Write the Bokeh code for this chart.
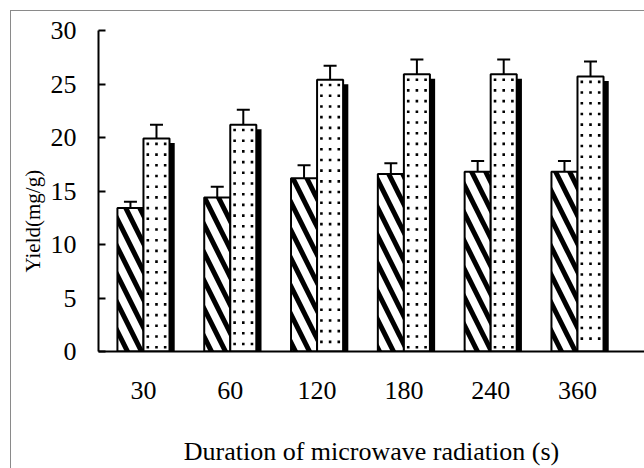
import math
import numpy as np
from bokeh.plotting import figure
from bokeh.models import ColumnDataSource, Range1d, FixedTicker, Whisker, TeeHead, Title
from bokeh.transform import dodge
from bokeh.embed import file_html
from bokeh.resources import INLINE

# ---- data ----
durations = ["30", "60", "120", "180", "240", "360"]          # microwave radiation time (s)
yield_hatched = [13.4, 14.4, 16.2, 16.6, 16.8, 16.8]          # first series (diagonal hatch)
err_hatched = [0.6, 1.0, 1.2, 1.0, 1.0, 1.0]
yield_dotted = [19.9, 21.2, 25.4, 25.9, 25.9, 25.7]           # second series (dotted)
err_dotted = [1.3, 1.4, 1.3, 1.4, 1.4, 1.4]
y_ticks = [0, 5, 10, 15, 20, 25, 30]

FONT = "Liberation Serif"
BW = 0.3
idx = list(range(len(durations)))
src = ColumnDataSource(dict(
    idx=idx,
    a=yield_hatched,
    b=yield_dotted,
    a_lo=[v - e for v, e in zip(yield_hatched, err_hatched)],
    a_hi=[v + e for v, e in zip(yield_hatched, err_hatched)],
    b_lo=[v - e for v, e in zip(yield_dotted, err_dotted)],
    b_hi=[v + e for v, e in zip(yield_dotted, err_dotted)],
))

# dot texture of the second series' bars (fill pattern, laid out inside each bar)
tex_x, tex_y = [], []
for i, top in zip(idx, yield_dotted):
    rows = np.arange(top - 0.5, 0.3, -1.0)
    for col in (-0.1, 0.0, 0.1):
        tex_x.extend([i + BW / 2 + col] * len(rows))
        tex_y.extend(rows.tolist())
tex = ColumnDataSource(dict(x=tex_x, y=tex_y))

p = figure(width=644, height=468, output_backend="svg", toolbar_location=None,
           x_range=Range1d(-0.518, 5.772), y_range=Range1d(0, 30),
           min_border_left=98, min_border_right=0, min_border_top=30, min_border_bottom=116)
p.border_fill_color = None
p.background_fill_color = None
p.outline_line_color = None
p.grid.visible = False
p.styles = {
    "background-image": "linear-gradient(#8a8a8a, #8a8a8a), linear-gradient(#8a8a8a, #8a8a8a)",
    "background-size": "1px 100%, 100% 1px",
    "background-position": "10px 10px, 10px 10px",
    "background-repeat": "no-repeat",
}

# shadow of dotted bars
p.vbar(x=dodge("idx", BW / 2 + 0.06), top=dodge("b", -0.42), bottom=0, width=BW, source=src,
       fill_color="black", line_color=None)
# hatched bars
p.vbar(x=dodge("idx", -BW / 2), top="a", bottom=0, width=BW, source=src,
       fill_color="white", line_color="black", line_width=2,
       hatch_pattern="\\", hatch_color="black", hatch_scale=28, hatch_weight=5)
# dotted bars
p.vbar(x=dodge("idx", BW / 2), top="b", bottom=0, width=BW, source=src,
       fill_color="white", line_color="black", line_width=2)
p.scatter(x="x", y="y", source=tex, marker="square", size=2.6,
          fill_color="black", line_color=None)

for base, lo, hi in [(dodge("idx", -BW / 2), "a_lo", "a_hi"), (dodge("idx", BW / 2), "b_lo", "b_hi")]:
    w = Whisker(source=src, base=base, lower=lo, upper=hi, line_color="black", line_width=2,
                upper_head=TeeHead(size=13, line_width=2, line_color="black"),
                lower_head=TeeHead(size=13, line_width=2, line_color="black"))
    p.add_layout(w)

# axes
xa = p.xaxis[0]
xa.ticker = FixedTicker(ticks=idx)
xa.major_label_overrides = {i: d for i, d in zip(idx, durations)}
xa.major_tick_in = 0
xa.major_tick_out = 0
xa.minor_tick_in = 0
xa.minor_tick_out = 0
xa.axis_line_width = 2
xa.axis_line_color = "black"
xa.major_label_standoff = 30
xa.major_label_text_font = FONT
xa.major_label_text_font_size = "26px"
xa.major_label_text_color = "black"
xa.axis_label = "Duration of microwave radiation (s)"
xa.axis_label_text_font = FONT
xa.axis_label_text_font_size = "26px"
xa.axis_label_text_font_style = "normal"
xa.axis_label_text_color = "black"
xa.axis_label_standoff = 35

ya = p.yaxis[0]
ya.ticker = FixedTicker(ticks=y_ticks)
ya.major_tick_in = 7
ya.major_tick_out = 0
ya.major_tick_line_width = 2
ya.minor_tick_in = 0
ya.minor_tick_out = 0
ya.axis_line_width = 2
ya.axis_line_color = "black"
ya.major_label_standoff = 22
ya.major_label_text_font = FONT
ya.major_label_text_font_size = "26px"
ya.major_label_text_color = "black"

ytitle = Title(text="Yield(mg/g)", align="left", offset=79, standoff=6,
               text_font=FONT, text_font_size="21px", text_font_style="normal", text_color="black")
p.add_layout(ytitle, "left")

open("out.html", "w").write(file_html(p, INLINE))
